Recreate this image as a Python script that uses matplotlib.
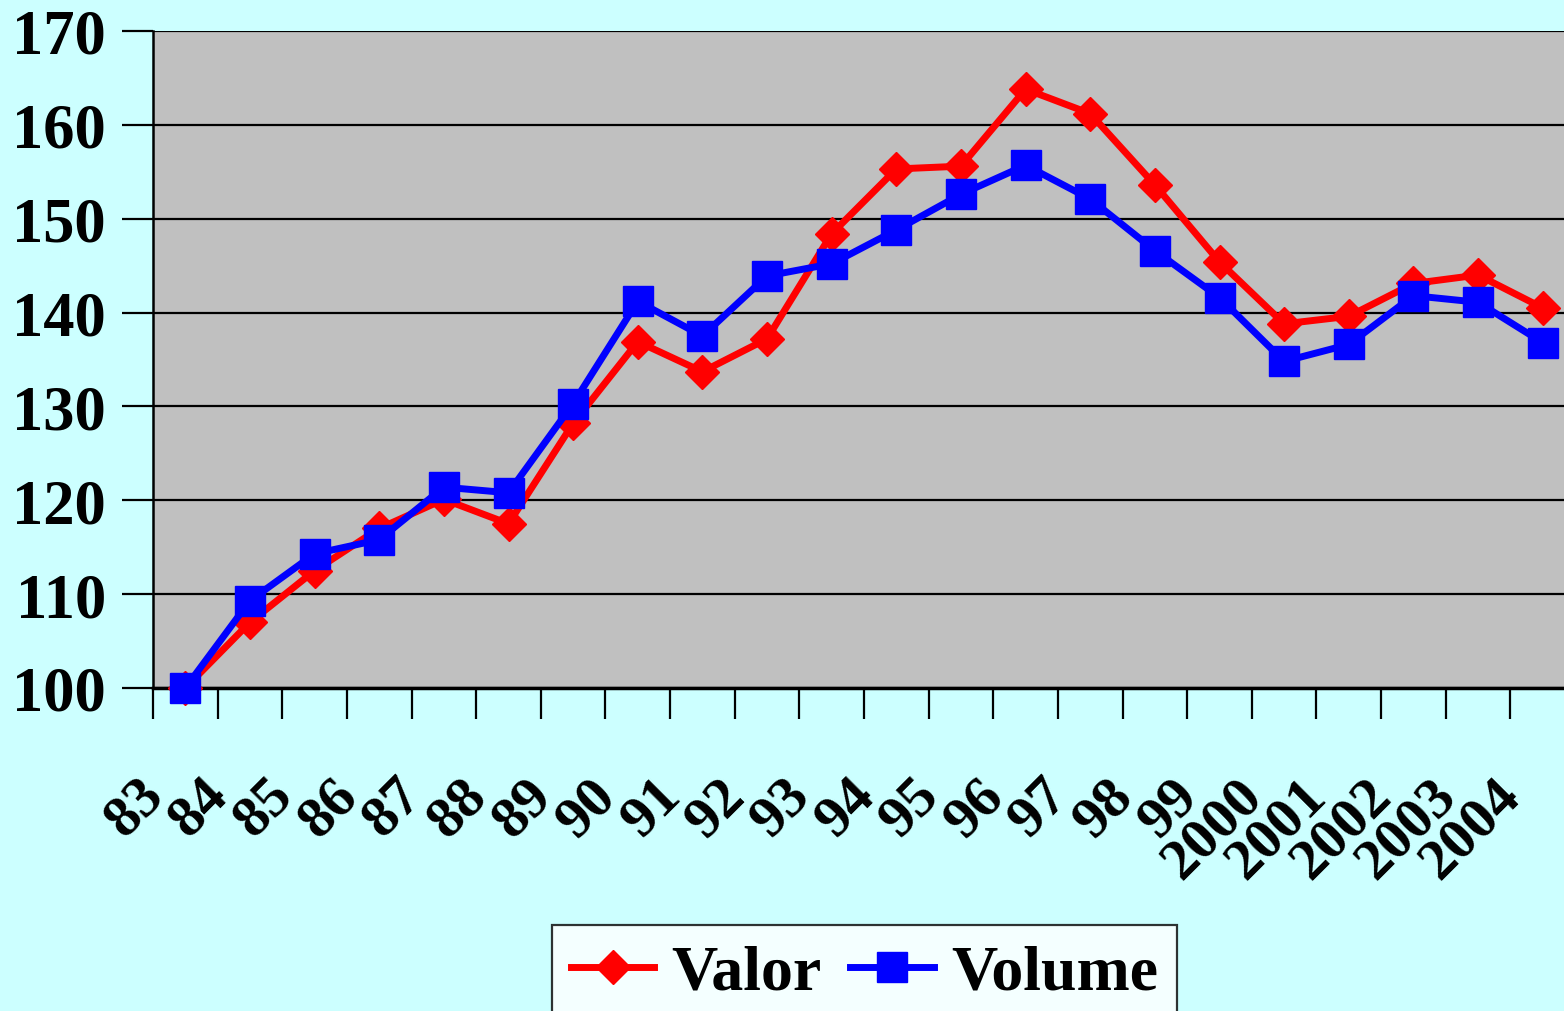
import numpy as np
import matplotlib.pyplot as plt
from matplotlib.transforms import ScaledTranslation

anos = ["83", "84", "85", "86", "87", "88", "89", "90", "91", "92", "93", "94",
        "95", "96", "97", "98", "99", "2000", "2001", "2002", "2003", "2004"]
valor = [100, 107.0, 112.5, 117.0, 120.1, 117.5, 128.2, 136.9, 133.7, 137.2, 148.4,
         155.3, 155.6, 163.8, 161.2, 153.6, 145.4, 138.8, 139.6, 143.1, 144.0, 140.5]
volume = [100, 109.3, 114.3, 115.8, 121.4, 120.8, 130.3, 141.2, 137.5, 143.9, 145.2,
          148.8, 152.6, 155.7, 152.1, 146.6, 141.6, 134.8, 136.6, 141.8, 141.1, 136.8]

plt.rcParams['font.family'] = ['Liberation Serif', 'DejaVu Serif']
plt.rcParams['font.weight'] = 'bold'

fig = plt.figure(figsize=(15.64, 10.12), dpi=100, facecolor='#CCFFFF')
ax = fig.add_axes([153 / 1564, 323 / 1012, 1422 / 1564, 657 / 1012])
ax.set_facecolor('#C0C0C0')

x = np.arange(len(anos))
ax.plot(x, valor, color='#FF0000', lw=5, marker='D', markersize=17,
        label='Valor', zorder=3, clip_on=False)
ax.plot(x, volume, color='#0000FF', lw=5, marker='s', markersize=22,
        label='Volume', zorder=4, clip_on=False)

ax.set_xlim(-0.5, len(anos) - 0.5)
ax.set_ylim(100, 170)
ax.set_yticks(np.arange(100, 171, 10))
ax.yaxis.grid(True, color='black', lw=1.6)
ax.set_axisbelow(True)

for s in ['top', 'right']:
    ax.spines[s].set_visible(False)
ax.spines['left'].set_linewidth(1.8)
ax.spines['bottom'].set_linewidth(2.5)

ax.tick_params(axis='y', length=22, width=1.6, labelsize=45, pad=12)
ax.set_xticks(x)
ax.set_xticklabels(anos, rotation=45, ha='right', va='top', fontsize=42)
ax.tick_params(axis='x', which='major', length=0, pad=58)
ax.set_xticks(np.arange(-0.5, len(anos), 1), minor=True)
ax.tick_params(axis='x', which='minor', length=22, width=1.6)
# rotated labels sit a bit left of the category centre
shift = ScaledTranslation(-12 / 100, 0, fig.dpi_scale_trans)
for lab in ax.get_xticklabels():
    lab.set_transform(lab.get_transform() + shift)

leg = fig.legend(loc='upper left', bbox_to_anchor=(552 / 1564, 1 - 926 / 1012),
                 ncol=2, fontsize=46, frameon=True, fancybox=False,
                 borderaxespad=0, handlelength=1.3, columnspacing=0.45,
                 handletextpad=0.27, borderpad=0.3)
leg.get_frame().set_edgecolor('black')
leg.get_frame().set_linewidth(1.6)
leg.get_frame().set_facecolor('white')

plt.savefig('out.png', dpi=100, facecolor=fig.get_facecolor())
